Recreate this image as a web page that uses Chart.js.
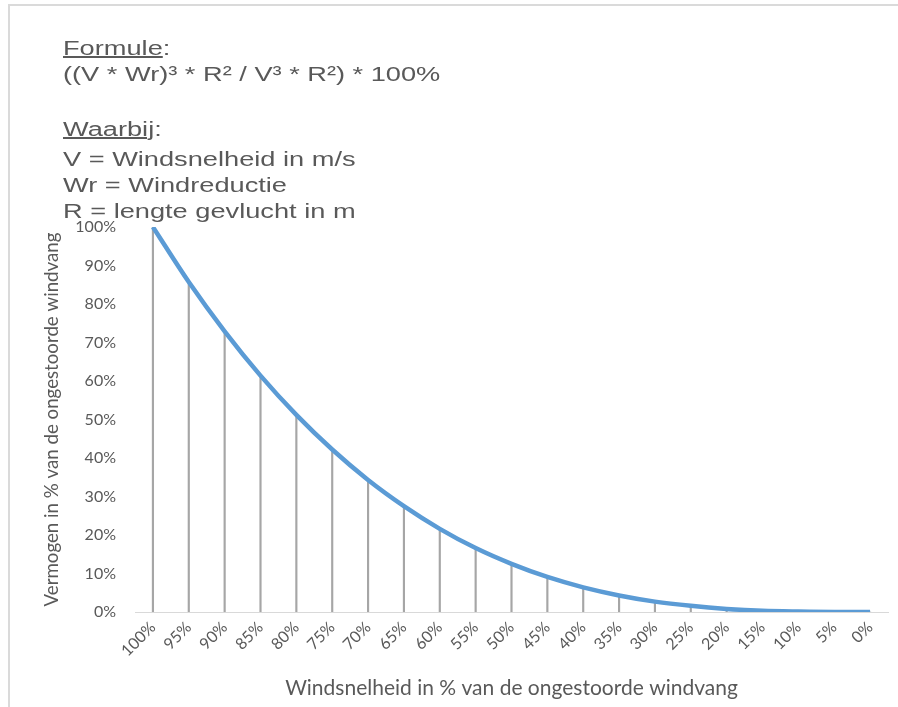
<!DOCTYPE html>
<html>
<head>
<meta charset="utf-8">
<script src="https://cdn.jsdelivr.net/npm/chart.js@4/dist/chart.umd.min.js"></script>
<style>
    html, body { margin: 0; padding: 0; background: #fff; }
    #wrap { position: relative; width: 898px; height: 707px; overflow: hidden; }
    #frame { position: absolute; left: 8px; top: 4px; right: 0; bottom: 0; border-top: 2px solid #dadada; border-left: 2px solid #dadada; }
    .note {
        position: absolute; left: 63px; height: 26px; line-height: 26px;
        font-family: "Liberation Sans", Arial, sans-serif; font-size: 20px;
        color: #595959; white-space: pre; transform: scaleX(1.36); transform-origin: 0 0;
    }
    #chart { position: absolute; left: 0; top: 0; }
</style>
</head>
<body>
<div id="wrap">
    <div id="frame"></div>
    <canvas id="chart" width="898" height="707"></canvas>
    <div class="note" style="top:35px"><u>Formule</u>:</div>
    <div class="note" style="top:61px">((V * Wr)³ * R² / V³ * R²) * 100%</div>
    <div class="note" style="top:116px"><u>Waarbij</u>:</div>
    <div class="note" style="top:146px">V = Windsnelheid in m/s</div>
    <div class="note" style="top:172px">Wr = Windreductie</div>
    <div class="note" style="top:198px">R = lengte gevlucht in m</div>
</div>
<script>
const windLabels = ['100%', '95%', '90%', '85%', '80%', '75%', '70%', '65%', '60%', '55%', '50%',
    '45%', '40%', '35%', '30%', '25%', '20%', '15%', '10%', '5%', '0%'];
const vermogen = [100, 85.7, 72.9, 61.4, 51.2, 42.2, 34.3, 27.5, 21.6, 16.6, 12.5,
    9.1, 6.4, 4.3, 2.7, 1.6, 0.8, 0.3, 0.1, 0.0, 0.0];
const yTicks = [0, 10, 20, 30, 40, 50, 60, 70, 80, 90, 100];

const textColor = '#595959';
const fontName = 'Lato, "Open Sans", sans-serif';

const ctx = document.getElementById('chart').getContext('2d');
new Chart(ctx, {
    data: {
        labels: windLabels,
        datasets: [
            {
                type: 'line',
                label: 'Vermogen',
                data: vermogen,
                borderColor: '#5b9bd5',
                borderWidth: 4.5,
                pointRadius: 0,
                cubicInterpolationMode: 'monotone',
                order: 1
            },
            {
                type: 'bar',
                label: 'lijnen',
                data: vermogen,
                backgroundColor: '#a6a6a6',
                barThickness: 1.5,
                order: 2
            }
        ]
    },
    options: {
        responsive: false,
        animation: false,
        layout: {
            padding: { left: 37, top: 227, right: 10, bottom: 0 }
        },
        plugins: {
            legend: { display: false },
            tooltip: { enabled: false }
        },
        scales: {
            x: {
                offset: true,
                grid: { display: false, drawTicks: false },
                border: { display: true, color: '#d9d9d9', width: 1 },
                ticks: {
                    color: textColor,
                    font: { family: fontName, size: 16 },
                    minRotation: 45,
                    maxRotation: 45,
                    autoSkip: false,
                    padding: 6
                },
                title: {
                    display: true,
                    text: 'Windsnelheid in % van de ongestoorde windvang',
                    color: textColor,
                    font: { family: fontName, size: 21, lineHeight: 1.2 },
                    padding: { top: 4, bottom: 6 }
                },
                afterFit: scale => { scale.height = 95; }
            },
            y: {
                min: 0,
                max: 100,
                afterBuildTicks: scale => { scale.ticks = yTicks.map(v => ({ value: v })); },
                grid: { display: false, drawTicks: false },
                border: { display: false },
                ticks: {
                    color: textColor,
                    font: { family: fontName, size: 16 },
                    padding: 19,
                    callback: v => v + '%'
                },
                title: {
                    display: true,
                    text: 'Vermogen in % van de ongestoorde windvang',
                    color: textColor,
                    font: { family: fontName, size: 18.7, lineHeight: 1.2 },
                    padding: { top: 4, bottom: 4 }
                },
                afterFit: scale => { scale.width = 98; }
            }
        }
    }
});
</script>
</body>
</html>
